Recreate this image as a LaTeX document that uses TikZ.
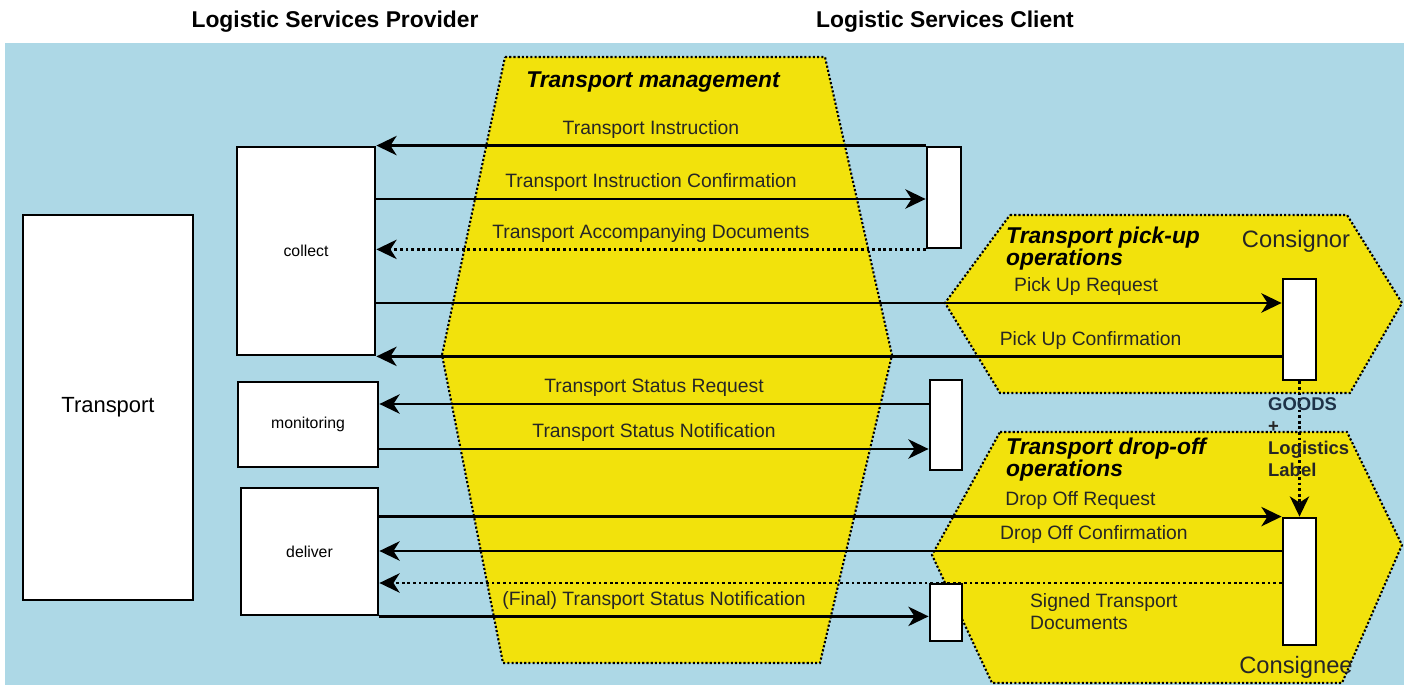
\documentclass[tikz,border=0pt]{standalone}
\usepackage{fontspec}
\setmainfont{Liberation Sans}
\usetikzlibrary{arrows.meta}
\definecolor{skycolor}{RGB}{173,216,230}
\definecolor{zonecolor}{RGB}{242,226,12}
\definecolor{goodscolor}{RGB}{30,50,72}

\begin{document}
\begin{tikzpicture}[
    x=0.02cm, y=-0.02cm,
    box/.style={draw, line width=1.6pt, fill=white, inner sep=0pt, font=\fontsize{9}{11}\selectfont},
    arrow/.style={-{Stealth[length=11.5pt, width=11pt, inset=3.5pt]}, line width=1.6pt},
    docarrow/.style={arrow, dash pattern=on 1.6pt off 1.6pt},
    zone/.style={fill=zonecolor, draw=black, line width=1.2pt, dash pattern=on 1.2pt off 1.2pt},
    msg/.style={font=\fontsize{11}{12.5}\selectfont, text=black!85},
    zonetitle/.style={font=\fontsize{13}{12.5}\selectfont\bfseries\itshape, align=left},
    head/.style={font=\fontsize{13}{15}\selectfont\bfseries}
]
    \useasboundingbox (0,0) rectangle (1404,685);
    \fill[skycolor] (5,43) rectangle (1404,685);

    % headings
    \node[head] (provider) at (335,22) {Logistic Services Provider};
    \node[head] (client) at (945,22) {Logistic Services Client};

    % yellow zones
    \path[zone] (505,57) -- (825,57) -- (892,355) -- (820,663) -- (503,663) -- (442,355) -- cycle;
    \path[zone] (1010,215) -- (1347,215) -- (1402,303) -- (1350,393) -- (1000,393) -- (945,303) -- cycle;
    \path[zone] (1000,432) -- (1347,432) -- (1402,545) -- (1342,683) -- (992,683) -- (932,555) -- cycle;

    \node[zonetitle] (tmtitle) at (653,82) {Transport management};
    \node[zonetitle, anchor=west] (putitle) at (1000,249) {Transport pick-up\\operations};
    \node[zonetitle, anchor=west] (dotitle) at (1000,460) {Transport drop-off\\operations};
    \node[font=\fontsize{13.5}{15}\selectfont, text=black!85] (consignor) at (1296,241) {Consignor};
    \node[font=\fontsize{13.5}{15}\selectfont, text=black!85] (consignee) at (1296,667) {Consignee};

    % provider side
    \node[box, minimum width=3.4cm, minimum height=7.7cm, font=\fontsize{12.5}{14}\selectfont] (transport) at (108,407.5) {Transport};
    \node[box, minimum width=2.76cm, minimum height=4.16cm] (collect) at (306,251) {collect};
    \node[box, minimum width=2.8cm, minimum height=1.7cm] (monitoring) at (308,424.5) {monitoring};
    \node[box, minimum width=2.74cm, minimum height=2.54cm] (deliver) at (309.5,551.5) {deliver};

    % client side
    \node[box, minimum width=0.68cm, minimum height=2.02cm] (tm1) at (944,197.5) {};
    \node[box, minimum width=0.64cm, minimum height=1.8cm] (tm2) at (946,425) {};
    \node[box, minimum width=0.64cm, minimum height=1.14cm] (tm3) at (946,612.5) {};
    \node[box, minimum width=0.66cm, minimum height=2.02cm] (cnor) at (1299.5,329.5) {};
    \node[box, minimum width=0.66cm, minimum height=2.54cm] (cnee) at (1299.5,581.5) {};

    % lanes
    \coordinate (l2) at (0,199);
    \coordinate (l4) at (0,303);
    \coordinate (l6) at (0,404);
    \coordinate (l7) at (0,449);
    \coordinate (l9) at (0,551);
    \coordinate (l10) at (0,583);

    % messages
    \draw[arrow] (tm1.north west) -- (collect.east |- tm1.north)
        node[msg, midway, above] {Transport Instruction};
    \draw[arrow] (collect.east |- l2) -- (tm1.west |- l2)
        node[msg, midway, above] {Transport Instruction Confirmation};
    \draw[docarrow] (tm1.south west) -- (collect.east |- tm1.south)
        node[msg, midway, above] {Transport Accompanying Documents};
    \draw[arrow] (collect.east |- l4) -- (cnor.west |- l4)
        node[msg, pos=0.784, above] {Pick Up Request};
    \draw[arrow] (cnor.west |- collect.south) -- (collect.south east)
        node[msg, pos=0.211, above] {Pick Up Confirmation};
    \draw[arrow] (tm2.west |- l6) -- (monitoring.east |- l6)
        node[msg, midway, above] {Transport Status Request};
    \draw[arrow] (monitoring.east |- l7) -- (tm2.west |- l7)
        node[msg, midway, above] {Transport Status Notification};
    \draw[arrow] (deliver.east |- cnee.north) -- (cnee.north west)
        node[msg, pos=0.777, above] {Drop Off Request};
    \draw[arrow] (cnee.west |- l9) -- (deliver.east |- l9)
        node[msg, pos=0.208, above] {Drop Off Confirmation};
    \draw[docarrow] (cnee.west |- l10) -- (deliver.east |- l10)
        node[msg, pos=0.197, below, align=left, yshift=-2pt] {Signed Transport\\Documents};
    \draw[arrow] (deliver.south east) -- (tm3.west |- deliver.south)
        node[msg, midway, above] {(Final) Transport Status Notification};

    % goods handed over
    \draw[docarrow, line width=1.2pt] (cnor.south) -- (cnee.north);
    \node[font=\fontsize{10.5}{12.5}\selectfont\bfseries, align=left, anchor=west, text=black!85] (goods) at (1262,437)
        {{\color{goodscolor}GOODS}\\+\\Logistics\\Label};
\end{tikzpicture}
\end{document}
